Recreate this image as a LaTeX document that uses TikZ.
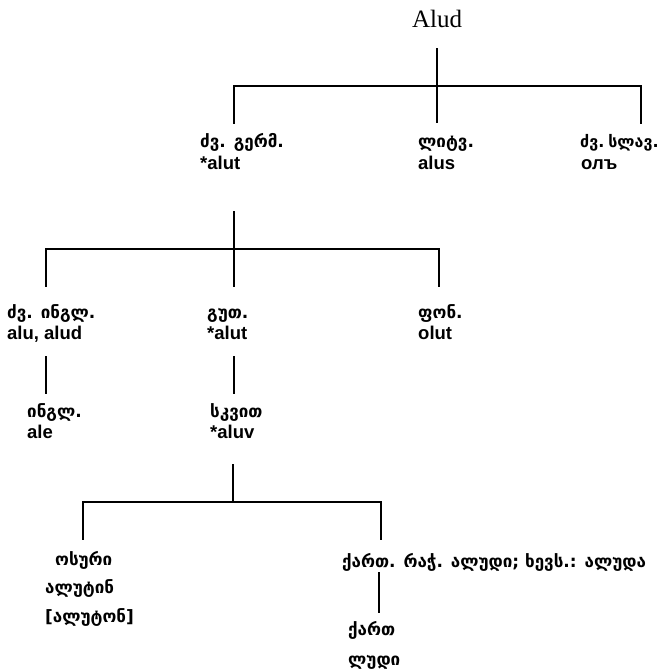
\documentclass[tikz,border=0pt]{standalone}
\usepackage{fontspec}
\newfontfamily\geo{DejaVu Sans Bold}
\newfontfamily\lat{Liberation Sans Bold}
\newfontfamily\ttl{Liberation Serif}
\begin{document}
\begin{tikzpicture}[x=1pt,y=-1pt,
  geotxt/.style={anchor=base west,inner sep=0pt,font=\geo\fontsize{17}{20}\selectfont},
  lattxt/.style={anchor=base west,inner sep=0pt,font=\lat\fontsize{18.5}{20}\selectfont},
  tree/.style={line width=2.5pt,line cap=rect}]
\useasboundingbox (0,0) rectangle (664,670);
% title
\node[anchor=base,inner sep=0pt,font=\ttl\fontsize{25}{28}\selectfont] (alud) at (437,27) {Alud};
% level 1 labels
\node[geotxt] (gm1) at (200,147) {ძვ. გერმ.};
\node[lattxt] (gm2) at (200,169) {*alut};
\node[geotxt] (lt1) at (418,147) {ლიტვ.};
\node[lattxt] (lt2) at (418,169) {alus};
\node[geotxt,font=\geo\fontsize{16}{20}\selectfont] (sl1) at (580,147) {ძვ.\hspace{0.25em}სლავ.};
\node[lattxt] (sl2) at (581,169) {олъ};
% level 2 labels
\node[geotxt] (en1) at (7,318) {ძვ. ინგლ.};
\node[lattxt] (en2) at (7,339) {alu, alud};
\node[geotxt] (go1) at (207,318) {გუთ.};
\node[lattxt] (go2) at (207,339) {*alut};
\node[geotxt] (fn1) at (418,318) {ფონ.};
\node[lattxt] (fn2) at (418,339) {olut};
% level 2b
\node[geotxt] (ne1) at (27,417) {ინგლ.};
\node[lattxt] (ne2) at (27,438) {ale};
\node[geotxt] (sk1) at (210,417) {სკვით};
\node[lattxt] (sk2) at (210,438) {*aluv};
% level 3
\node[geotxt] (os1) at (55,565) {ოსური};
\node[geotxt] (os2) at (45,593) {ალუტინ};
\node[geotxt] (os3) at (45,622) {[ალუტონ]};
\node[geotxt] (ka1) at (342,567) {ქართ. რაჭ. ალუდი; ხევს.: ალუდა};
\node[geotxt] (ka2) at (348,635) {ქართ};
\node[geotxt] (ka3) at (348,665) {ლუდი};
% tree 1
\coordinate (t1a) at (437,49);
\coordinate (t1b) at (437,122);
\coordinate (t1l) at (234,123);
\coordinate (t1r) at (641,123);
\coordinate (t1h) at (437,86);
\draw[tree] (t1a) -- (t1b);
\draw[tree] (t1l) -- (t1l |- t1h) -- (t1r |- t1h) -- (t1r);
% tree 2
\coordinate (t2a) at (234,212);
\coordinate (t2b) at (234,286);
\coordinate (t2l) at (46,286);
\coordinate (t2r) at (439,286);
\coordinate (t2h) at (234,249);
\draw[tree] (t2a) -- (t2b);
\draw[tree] (t2l) -- (t2l |- t2h) -- (t2r |- t2h) -- (t2r);
% short links
\coordinate (s1a) at (46,357);
\coordinate (s1b) at (46,393);
\coordinate (s2a) at (234,357);
\coordinate (s2b) at (234,393);
\draw[tree] (s1a) -- (s1b);
\draw[tree] (s2a) -- (s2b);
% tree 3
\coordinate (t3a) at (233,465);
\coordinate (t3h) at (233,502);
\coordinate (t3l) at (83,539);
\coordinate (t3r) at (381,539);
\draw[tree] (t3a) -- (t3h);
\draw[tree] (t3l) -- (t3l |- t3h) -- (t3r |- t3h) -- (t3r);
% link to kartuli
\coordinate (s3a) at (379,573);
\coordinate (s3b) at (379,612);
\draw[tree] (s3a) -- (s3b);
\end{tikzpicture}
\end{document}
